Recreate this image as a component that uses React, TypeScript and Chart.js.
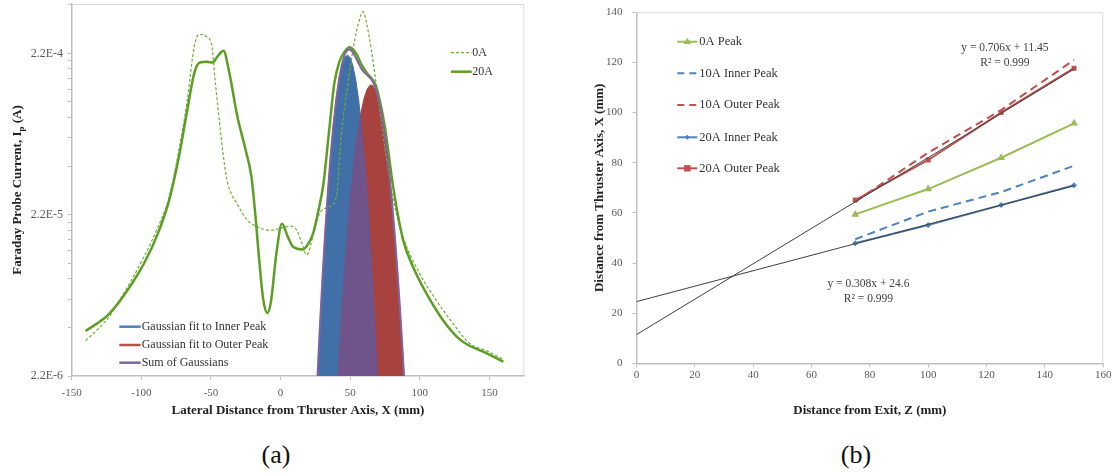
import React, { useEffect, useRef } from 'react';
import { Chart, registerables } from 'chart.js';

Chart.register(...registerables);

const FONT = '"Liberation Serif", "Times New Roman", serif';

// ---------------- Panel (a) data ----------------
const x20A = [-140, -124, -114, -98, -88, -80, -73, -67, -62, -58, -53, -49, -45, -41, -37, -31, -25, -21, -18, -16, -12.5, -9.5, -7, -3, 1, 5, 9, 16, 20, 23.5, 27, 30.5, 34.5, 38.5, 42, 46, 49.5, 54.5, 58, 62, 68.5, 72, 75, 81, 88, 95, 104.5, 116.5, 128, 134, 148, 160];
const i20A = [4.18e-6, 5.25e-6, 6.67e-6, 1.10e-5, 1.69e-5, 2.71e-5, 5.04e-5, 9.81e-5, 1.66e-4, 1.93e-4, 1.95e-4, 1.93e-4, 2.12e-4, 2.28e-4, 1.70e-4, 8.9e-5, 5.5e-5, 3.8e-5, 2.14e-5, 1.33e-5, 6.6e-6, 5.4e-6, 6.3e-6, 1.27e-5, 1.93e-5, 1.62e-5, 1.39e-5, 1.34e-5, 1.46e-5, 1.70e-5, 2.3e-5, 3.3e-5, 6.8e-5, 1.42e-4, 1.93e-4, 2.25e-4, 2.40e-4, 2.18e-4, 1.88e-4, 1.66e-4, 1.38e-4, 1.04e-4, 7.6e-5, 3.2e-5, 1.53e-5, 1.05e-5, 7.2e-6, 4.9e-6, 3.75e-6, 3.45e-6, 3.04e-6, 2.70e-6];

const x0A = [-140, -124, -114, -98, -88, -80, -73, -67, -62, -58.5, -53, -49.5, -47, -43, -39, -36.5, -31.5, -24, -16, -8, 2, 7, 11.5, 15.5, 18.8, 23.5, 28, 31.5, 35.3, 40, 43.7, 48.4, 53.2, 56, 59.2, 62, 65.2, 71.1, 78.3, 83.1, 87.8, 99.8, 111.7, 123.7, 135.6, 148, 160];
const i0A = [3.64e-6, 5.01e-6, 6.82e-6, 1.21e-5, 1.85e-5, 2.84e-5, 5.54e-5, 1.13e-4, 2.42e-4, 2.89e-4, 2.79e-4, 2.48e-4, 1.50e-4, 7.0e-5, 3.8e-5, 3.13e-5, 2.59e-5, 2.04e-5, 1.84e-5, 1.76e-5, 1.83e-5, 1.87e-5, 1.77e-5, 1.45e-5, 1.24e-5, 1.65e-5, 2.24e-5, 2.40e-5, 2.47e-5, 2.84e-5, 7.0e-5, 1.44e-4, 2.66e-4, 3.4e-4, 3.99e-4, 3.3e-4, 2.31e-4, 9.8e-5, 3.6e-5, 2.24e-5, 1.61e-5, 9.5e-6, 6.5e-6, 4.67e-6, 3.51e-6, 3.15e-6, 2.79e-6];

const xInner = [26, 28, 30, 32, 34, 36, 38, 40, 42, 44, 46, 48, 50, 52, 54, 56, 58, 60, 62, 64, 66, 68, 70];
const iInner = [1.77e-6, 4.07e-6, 8.64e-6, 1.70e-5, 3.08e-5, 5.15e-5, 7.97e-5, 1.14e-4, 1.50e-4, 1.83e-4, 2.07e-4, 2.15e-4, 2.07e-4, 1.83e-4, 1.50e-4, 1.14e-4, 7.97e-5, 5.15e-5, 3.08e-5, 1.70e-5, 8.64e-6, 4.07e-6, 1.77e-6];

const xOuter = [40, 42, 44, 46, 48, 50, 52, 54, 56, 58, 60, 62, 64, 65, 66, 68, 70, 72, 74, 76, 78, 80, 82, 84, 86, 88, 90];
const iOuter = [1.34e-6, 2.74e-6, 5.27e-6, 9.56e-6, 1.63e-5, 2.63e-5, 3.98e-5, 5.69e-5, 7.66e-5, 9.72e-5, 1.16e-4, 1.31e-4, 1.39e-4, 1.40e-4, 1.39e-4, 1.31e-4, 1.16e-4, 9.72e-5, 7.66e-5, 5.69e-5, 3.98e-5, 2.63e-5, 1.63e-5, 9.56e-6, 5.27e-6, 2.74e-6, 1.34e-6];

const xOverlap = [40, 42, 44, 46, 48, 50, 52, 54, 56, 57.35, 58, 60, 62, 64, 66, 68, 70];
const iOverlap = [1.34e-6, 2.74e-6, 5.27e-6, 9.56e-6, 1.63e-5, 2.63e-5, 3.98e-5, 5.69e-5, 7.66e-5, 9.05e-5, 7.97e-5, 5.15e-5, 3.08e-5, 1.70e-5, 8.64e-6, 4.07e-6, 1.77e-6];

const xSum = [26, 28, 30, 32, 34, 36, 38, 40, 42, 44, 46, 48, 50, 52, 54, 56, 58, 60, 62, 64, 65, 66, 68, 70, 72, 74, 76, 78, 80, 82, 84, 86, 88, 90];
const iSum = [1.77e-6, 4.07e-6, 8.64e-6, 1.70e-5, 3.08e-5, 5.18e-5, 8.03e-5, 1.15e-4, 1.53e-4, 1.88e-4, 2.17e-4, 2.31e-4, 2.33e-4, 2.23e-4, 2.07e-4, 1.91e-4, 1.77e-4, 1.68e-4, 1.62e-4, 1.56e-4, 1.52e-4, 1.48e-4, 1.35e-4, 1.18e-4, 9.79e-5, 7.66e-5, 5.69e-5, 3.98e-5, 2.63e-5, 1.63e-5, 9.56e-6, 5.27e-6, 2.74e-6, 1.34e-6];

const xTicksA = [-150, -100, -50, 0, 50, 100, 150];
const xMinA = -150;
const xMaxA = 175;
const yMajorA = [2.2e-6, 2.2e-5, 2.2e-4];
const yLabelsA = ['2.2E-6', '2.2E-5', '2.2E-4'];
const yMinorMult = [2, 3, 4, 5, 6, 7, 8, 9];
const yMinA = 2.2e-6;
const yMaxA = 4.45e-4;

// ---------------- Panel (b) data ----------------
const zVals = [75, 100, 125, 150];
const peak0A = [59.4, 69.5, 82.0, 95.7];
const inner10A = [49.5, 60.5, 68.3, 78.8];
const outer10A = [64.5, 84.0, 101.0, 121.0];
const inner20A = [47.9, 55.2, 63.1, 71.0];
const outer20A = [65.1, 81.1, 100.0, 117.7];
const trendX = [0, 150];
const trendOuter = [11.45, 117.35];
const trendInner = [24.6, 70.8];
const eqOuter = ['y = 0.706x + 11.45', 'R\u00B2 = 0.999'];
const eqInner = ['y = 0.308x + 24.6', 'R\u00B2 = 0.999'];
const eqOuterPos = { x: 126.3, y: 125.9 };
const eqInnerPos = { x: 79.5, y: 31.6 };

const zip = (xs: number[], ys: number[]) => xs.map((x, i) => ({ x, y: ys[i] }));

const GREEN20 = '#5C9E24';
const GREEN0 = '#6FAE35';
const BLUE_FILL = '#4170A8';
const RED_FILL = '#A8423F';
const PURPLE_FILL = '#6F548B';
const PURPLE_LINE = '#8064A2';
const BLUE = '#4F81BD';
const RED = '#C0504D';
const LGREEN = '#9BBB59';
const TICK_COLOR = '#595959';
const AXIS_COLOR = '#BFBFBF';
const TEXT = '#222222';

function line(ctx: CanvasRenderingContext2D, x1: number, x2: number, y: number, color: string, w: number, dash: number[] = []) {
  ctx.save();
  ctx.strokeStyle = color;
  ctx.lineWidth = w;
  ctx.setLineDash(dash);
  ctx.beginPath();
  ctx.moveTo(x1, y);
  ctx.lineTo(x2, y);
  ctx.stroke();
  ctx.restore();
}

function marker(ctx: CanvasRenderingContext2D, kind: string, cx: number, cy: number, r: number, color: string) {
  ctx.save();
  ctx.fillStyle = color;
  ctx.beginPath();
  if (kind === 'triangle') {
    ctx.moveTo(cx, cy - r);
    ctx.lineTo(cx + r * 0.95, cy + r * 0.6);
    ctx.lineTo(cx - r * 0.95, cy + r * 0.6);
  } else if (kind === 'diamond') {
    ctx.moveTo(cx, cy - r);
    ctx.lineTo(cx + r, cy);
    ctx.lineTo(cx, cy + r);
    ctx.lineTo(cx - r, cy);
  } else {
    ctx.rect(cx - r, cy - r, 2 * r, 2 * r);
  }
  ctx.closePath();
  ctx.fill();
  ctx.restore();
}

function frame(ctx: CanvasRenderingContext2D, a: any) {
  ctx.save();
  ctx.strokeStyle = '#D9D9D9';
  ctx.lineWidth = 1;
  ctx.beginPath();
  ctx.moveTo(a.left, a.top + 0.5);
  ctx.lineTo(a.right - 0.5, a.top + 0.5);
  ctx.lineTo(a.right - 0.5, a.bottom);
  ctx.stroke();
  ctx.restore();
}

const fitY = (w: number) => (s: any) => {
  s.width = w;
  s.paddingTop = 0;
  s.paddingBottom = 0;
};
const fitX = (h: number) => (s: any) => {
  s.height = h;
  s.paddingLeft = 0;
  s.paddingRight = 0;
};

const decorA = {
  id: 'decorA',
  afterDraw(chart: any) {
    const ctx: CanvasRenderingContext2D = chart.ctx;
    const a = chart.chartArea;
    frame(ctx, a);
    ctx.save();
    ctx.fillStyle = TEXT;
    ctx.font = `bold 13px ${FONT}`;
    ctx.textAlign = 'center';
    ctx.textBaseline = 'middle';
    ctx.fillText('Lateral Distance from Thruster Axis, X (mm)', (a.left + a.right) / 2, 410.5);
    // y title with subscript
    ctx.save();
    ctx.translate(16, (a.top + a.bottom) / 2);
    ctx.rotate(-Math.PI / 2);
    const p1 = 'Faraday Probe Current, I';
    const p2 = 'p';
    const p3 = ' (A)';
    const f1 = `bold 13px ${FONT}`;
    const f2 = `bold 9px ${FONT}`;
    ctx.font = f1;
    const w1 = ctx.measureText(p1).width;
    const w3 = ctx.measureText(p3).width;
    ctx.font = f2;
    const w2 = ctx.measureText(p2).width;
    let x = -(w1 + w2 + w3) / 2;
    ctx.textAlign = 'left';
    ctx.textBaseline = 'alphabetic';
    ctx.font = f1;
    ctx.fillText(p1, x, 4.5);
    x += w1;
    ctx.font = f2;
    ctx.fillText(p2, x, 7.5);
    x += w2;
    ctx.font = f1;
    ctx.fillText(p3, x, 4.5);
    ctx.restore();

    // legends
    ctx.font = `12px ${FONT}`;
    ctx.textAlign = 'left';
    ctx.textBaseline = 'middle';
    ctx.fillStyle = '#333333';
    const lx1 = a.right - 73.3;
    const lx2 = a.right - 52.6;
    line(ctx, lx1, lx2, 52.7, GREEN0, 1.2, [3, 2]);
    ctx.fillText('0A', lx2 + 0.6, 52.7);
    line(ctx, lx1, lx2, 71.7, GREEN20, 2.5);
    ctx.fillText('20A', lx2 + 0.6, 71.7);

    const bx1 = a.left + 47.6;
    const bx2 = a.left + 69;
    const rows = [
      { t: 'Gaussian fit to Inner Peak', c: BLUE, y: 326.7 },
      { t: 'Gaussian fit to Outer Peak', c: RED, y: 345 },
      { t: 'Sum of Gaussians', c: PURPLE_LINE, y: 362.7 },
    ];
    rows.forEach((r) => {
      line(ctx, bx1, bx2, r.y, r.c, 2.5);
      ctx.fillText(r.t, bx2 + 1, r.y);
    });
    ctx.restore();
  },
};

const decorB = {
  id: 'decorB',
  afterDraw(chart: any) {
    const ctx: CanvasRenderingContext2D = chart.ctx;
    const a = chart.chartArea;
    frame(ctx, a);
    ctx.save();
    ctx.fillStyle = TEXT;
    ctx.font = `bold 13px ${FONT}`;
    ctx.textAlign = 'center';
    ctx.textBaseline = 'middle';
    ctx.fillText('Distance from Exit, Z (mm)', (a.left + a.right) / 2, 411);
    ctx.save();
    ctx.translate(40, (a.top + a.bottom) / 2);
    ctx.rotate(-Math.PI / 2);
    ctx.fillText('Distance from Thruster Axis, X (mm)', 0, 0);
    ctx.restore();

    // legend
    const lx1 = a.left + 40.8;
    const lx2 = a.left + 60.8;
    const mid = (lx1 + lx2) / 2;
    ctx.font = `12.5px ${FONT}`;
    ctx.textAlign = 'left';
    ctx.fillStyle = '#333333';
    const rows = [
      { t: '0A Peak', c: LGREEN, y: 41.7, dash: [] as number[], m: 'triangle', r: 4 },
      { t: '10A Inner Peak', c: BLUE, y: 73.3, dash: [7, 5], m: '', r: 0 },
      { t: '10A Outer Peak', c: RED, y: 105, dash: [7, 5], m: '', r: 0 },
      { t: '20A Inner Peak', c: BLUE, y: 137.3, dash: [], m: 'diamond', r: 2.5 },
      { t: '20A Outer Peak', c: RED, y: 168.3, dash: [], m: 'rect', r: 3.2 },
    ];
    rows.forEach((r) => {
      line(ctx, lx1, lx2, r.y, r.c, 2, r.dash);
      if (r.m) marker(ctx, r.m, mid, r.y, r.r, r.c);
      ctx.fillText(r.t, lx2 + 2, r.y);
    });

    // trend-line equations
    const sx = chart.scales.x;
    const sy = chart.scales.y;
    ctx.font = `11.5px ${FONT}`;
    ctx.fillStyle = '#404040';
    ctx.textAlign = 'center';
    const e1x = sx.getPixelForValue(eqOuterPos.x);
    const e1y = sy.getPixelForValue(eqOuterPos.y);
    ctx.fillText(eqOuter[0], e1x, e1y);
    ctx.fillText(eqOuter[1], e1x, e1y + 15);
    const e2x = sx.getPixelForValue(eqInnerPos.x);
    const e2y = sy.getPixelForValue(eqInnerPos.y);
    ctx.fillText(eqInner[0], e2x, e2y);
    ctx.fillText(eqInner[1], e2x, e2y + 15);
    ctx.restore();
  },
};

function makeConfigA(): any {
  const yTicks = [...yMajorA, ...yMajorA.flatMap((m) => yMinorMult.map((k) => m * k))]
    .filter((v) => v <= yMaxA)
    .sort((p, q) => p - q);
  return {
    type: 'line',
    data: {
      datasets: [
        { label: 'Sum of Gaussians', data: zip(xSum, iSum), borderColor: PURPLE_LINE, borderWidth: 2, pointRadius: 0, fill: false, tension: 0, order: 0 },
        { label: '20A', data: zip(x20A, i20A), borderColor: GREEN20, borderWidth: 2.5, pointRadius: 0, fill: false, cubicInterpolationMode: 'monotone', order: 1 },
        { label: '0A', data: zip(x0A, i0A), borderColor: GREEN0, borderWidth: 1.2, borderDash: [3, 2], pointRadius: 0, fill: false, cubicInterpolationMode: 'monotone', order: 2 },
        { label: 'Overlap', data: zip(xOverlap, iOverlap), borderColor: PURPLE_FILL, backgroundColor: PURPLE_FILL, borderWidth: 1, pointRadius: 0, fill: 'start', tension: 0, order: 3 },
        { label: 'Gaussian fit to Outer Peak', data: zip(xOuter, iOuter), borderColor: RED_FILL, backgroundColor: RED_FILL, borderWidth: 1, pointRadius: 0, fill: 'start', tension: 0, order: 4 },
        { label: 'Gaussian fit to Inner Peak', data: zip(xInner, iInner), borderColor: BLUE_FILL, backgroundColor: BLUE_FILL, borderWidth: 1, pointRadius: 0, fill: 'start', tension: 0, order: 5 },
      ],
    },
    options: {
      responsive: false,
      animation: false,
      devicePixelRatio: 1,
      events: [],
      layout: { padding: { left: 0, top: 4, right: 20.7, bottom: 0 } },
      plugins: { legend: { display: false }, tooltip: { enabled: false } },
      scales: {
        x: {
          type: 'linear',
          min: xMinA,
          max: xMaxA,
          afterBuildTicks: (s: any) => { s.ticks = xTicksA.map((v) => ({ value: v })); },
          afterFit: fitX(54),
          grid: { drawOnChartArea: false, drawTicks: true, tickLength: 4, color: AXIS_COLOR },
          border: { color: AXIS_COLOR, width: 1.5 },
          ticks: { font: { family: FONT, size: 11 }, color: TICK_COLOR, padding: 7, maxRotation: 0, autoSkip: false, callback: (v: any) => String(v) },
        },
        y: {
          type: 'logarithmic',
          min: yMinA,
          max: yMaxA,
          afterBuildTicks: (s: any) => { s.ticks = yTicks.map((v) => ({ value: v })); },
          afterFit: fitY(71.7),
          grid: { drawOnChartArea: false, drawTicks: true, tickLength: 4, color: AXIS_COLOR },
          border: { color: AXIS_COLOR, width: 1.5 },
          ticks: {
            font: { family: FONT, size: 12 },
            color: TICK_COLOR,
            padding: 4.7,
            autoSkip: false,
            callback: (v: any) => {
              const i = yMajorA.indexOf(v);
              return i >= 0 ? yLabelsA[i] : '';
            },
          },
        },
      },
    },
    plugins: [decorA],
  };
}

function makeConfigB(): any {
  return {
    type: 'line',
    data: {
      datasets: [
        { label: 'trend outer', data: zip(trendX, trendOuter), borderColor: '#404040', borderWidth: 1, pointRadius: 0, tension: 0, order: 0 },
        { label: 'trend inner', data: zip(trendX, trendInner), borderColor: '#404040', borderWidth: 1, pointRadius: 0, tension: 0, order: 0 },
        { label: '20A Outer Peak', data: zip(zVals, outer20A), borderColor: RED, backgroundColor: RED, borderWidth: 2, pointStyle: 'rect', pointRadius: 3.5, pointBorderWidth: 0, tension: 0, order: 1 },
        { label: '20A Inner Peak', data: zip(zVals, inner20A), borderColor: BLUE, backgroundColor: BLUE, borderWidth: 2, pointStyle: 'rectRot', pointRadius: 3, pointBorderWidth: 0, tension: 0, order: 2 },
        { label: '10A Outer Peak', data: zip(zVals, outer10A), borderColor: RED, borderWidth: 2, borderDash: [8, 5], pointRadius: 0, tension: 0, order: 3 },
        { label: '10A Inner Peak', data: zip(zVals, inner10A), borderColor: BLUE, borderWidth: 2, borderDash: [8, 5], pointRadius: 0, tension: 0, order: 4 },
        { label: '0A Peak', data: zip(zVals, peak0A), borderColor: LGREEN, backgroundColor: LGREEN, borderWidth: 2, pointStyle: 'triangle', pointRadius: 4.5, pointBorderWidth: 0, tension: 0, order: 5 },
      ],
    },
    options: {
      responsive: false,
      animation: false,
      devicePixelRatio: 1,
      events: [],
      layout: { padding: { left: 0, top: 12.3, right: 13.8, bottom: 0 } },
      plugins: { legend: { display: false }, tooltip: { enabled: false } },
      scales: {
        x: {
          type: 'linear',
          min: 0,
          max: 160,
          afterFit: fitX(66.7),
          grid: { drawOnChartArea: false, drawTicks: true, tickLength: 4, color: AXIS_COLOR },
          border: { color: AXIS_COLOR, width: 1.5 },
          ticks: { stepSize: 20, font: { family: FONT, size: 11 }, color: TICK_COLOR, padding: 1, maxRotation: 0, autoSkip: false },
        },
        y: {
          type: 'linear',
          min: 0,
          max: 140,
          afterFit: fitY(76.5),
          grid: { drawOnChartArea: false, drawTicks: true, tickLength: 4, color: AXIS_COLOR },
          border: { color: AXIS_COLOR, width: 1.5 },
          ticks: { stepSize: 20, font: { family: FONT, size: 11 }, color: TICK_COLOR, padding: 10, autoSkip: false },
        },
      },
    },
    plugins: [decorB],
  };
}

export default function App() {
  const refA = useRef<HTMLCanvasElement>(null);
  const refB = useRef<HTMLCanvasElement>(null);
  useEffect(() => {
    const cA = new Chart(refA.current as HTMLCanvasElement, makeConfigA());
    const cB = new Chart(refB.current as HTMLCanvasElement, makeConfigB());
    return () => {
      cA.destroy();
      cB.destroy();
    };
  }, []);
  const cap: React.CSSProperties = { position: 'absolute', top: 440, width: 100, height: 30, lineHeight: '30px', textAlign: 'center', fontSize: 26, fontFamily: FONT, color: '#111' };
  return (
    <div style={{ position: 'absolute', left: 0, top: 0, width: 1117, height: 474, background: '#ffffff', overflow: 'hidden' }}>
      <canvas ref={refA} width={545} height={430} style={{ position: 'absolute', left: 0, top: 0, width: 545, height: 430 }} />
      <canvas ref={refB} width={557} height={430} style={{ position: 'absolute', left: 560, top: 0, width: 557, height: 430 }} />
      <div style={{ ...cap, left: 226 }}>(a)</div>
      <div style={{ ...cap, left: 806 }}>(b)</div>
    </div>
  );
}
